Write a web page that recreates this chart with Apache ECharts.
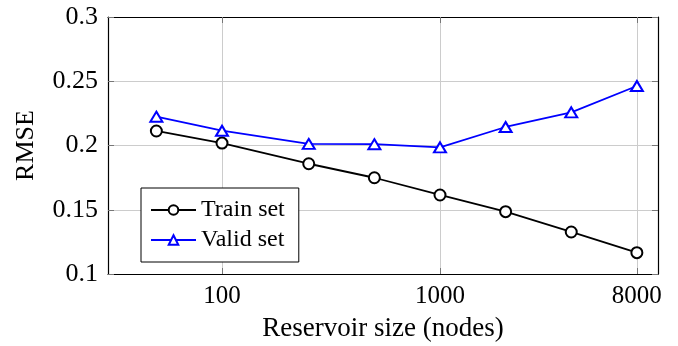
<!DOCTYPE html>
<html><head><meta charset="utf-8">
<script src="https://cdn.jsdelivr.net/npm/echarts@6/dist/echarts.min.js"></script>
<style>html,body{margin:0;padding:0;background:#fff}#c{width:678px;height:346px}</style>
</head><body><div id="c"></div>
<script>
const sizes = [50, 100, 250, 500, 1000, 2000, 4000, 8000];
const trainRMSE = [0.2113, 0.2019, 0.1858, 0.1749, 0.1615, 0.1485, 0.1327, 0.1166];
const validRMSE = [0.2224, 0.2115, 0.2012, 0.2010, 0.1986, 0.2144, 0.2258, 0.2463];
const xTicks = [100, 1000, 8000];
const FONT = '"Liberation Serif", "Times New Roman", serif';

const chart = echarts.init(document.getElementById('c'), null, {renderer: 'canvas'});
const pair = (ys) => sizes.map((x, i) => [x, ys[i]]);
chart.setOption({
  animation: false,
  backgroundColor: '#fff',
  textStyle: {fontFamily: FONT, color: '#000'},
  grid: {left: 108, right: 20, top: 17, bottom: 72, show: false, containLabel: false, outerBoundsMode: 'none'},
  xAxis: [{
    type: 'log', logBase: 10, min: 30, max: 10000,
    name: 'Reservoir size (nodes)', nameLocation: 'middle', nameGap: 41,
    nameTextStyle: {fontFamily: FONT, fontSize: 27, color: '#000'},
    axisLine: {show: true, onZero: false, lineStyle: {color: '#000', width: 1.2}},
    axisTick: {show: true, inside: true, length: 6, customValues: xTicks, lineStyle: {color: '#777'}},
    axisLabel: {customValues: xTicks, formatter: (v) => String(v), fontFamily: FONT, fontSize: 25, color: '#000', margin: 10},
    splitLine: {show: true, lineStyle: {color: '#cccccc', width: 1}},
    minorTick: {show: false}
  }, {
    type: 'log', logBase: 10, min: 30, max: 10000, position: 'top',
    axisLine: {show: true, onZero: false, lineStyle: {color: '#000', width: 1.2}},
    axisTick: {show: true, inside: true, length: 6, customValues: xTicks, lineStyle: {color: '#777'}},
    axisLabel: {show: false, customValues: xTicks},
    splitLine: {show: false}
  }],
  yAxis: [{
    type: 'value', min: 0.1, max: 0.3, interval: 0.05,
    name: 'RMSE', nameLocation: 'middle', nameGap: 69, nameRotate: 90,
    nameTextStyle: {fontFamily: FONT, fontSize: 26, color: '#000'},
    axisLine: {show: true, onZero: false, lineStyle: {color: '#000', width: 1.2}},
    axisTick: {show: true, inside: true, length: 6, lineStyle: {color: '#777'}},
    axisLabel: {fontFamily: FONT, fontSize: 26, color: '#000', margin: 10},
    splitLine: {show: true, lineStyle: {color: '#cccccc', width: 1}}
  }, {
    type: 'value', min: 0.1, max: 0.3, interval: 0.05, position: 'right',
    axisLine: {show: true, onZero: false, lineStyle: {color: '#000', width: 1.2}},
    axisTick: {show: true, inside: true, length: 6, lineStyle: {color: '#777'}},
    axisLabel: {show: false},
    splitLine: {show: false}
  }],
  legend: {
    left: 141, top: 188, orient: 'vertical',
    backgroundColor: '#fff', borderColor: '#000', borderWidth: 1,
    padding: [10, 14, 10, 9], itemGap: 6, itemWidth: 45, itemHeight: 12,
    textStyle: {fontFamily: FONT, fontSize: 24, color: '#000'},
    data: ['Train set', 'Valid set']
  },
  series: [{
    name: 'Train set', type: 'line', data: pair(trainRMSE),
    symbol: 'emptyCircle', symbolSize: 11,
    lineStyle: {color: '#000', width: 1.8},
    itemStyle: {color: '#000', borderColor: '#000', borderWidth: 1.8},
    z: 3
  }, {
    name: 'Valid set', type: 'line', data: pair(validRMSE),
    symbol: 'triangle', symbolSize: [12, 10],
    lineStyle: {color: '#0000ff', width: 1.8},
    itemStyle: {color: '#fff', borderColor: '#0000ff', borderWidth: 2},
    z: 3
  }]
});
</script></body></html>
